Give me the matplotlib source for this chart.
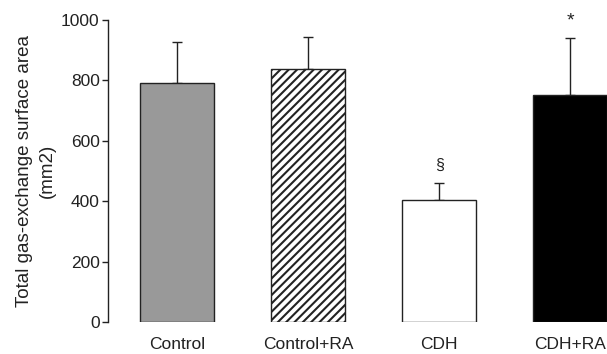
"""Total gas-exchange surface area bar chart."""

import matplotlib
matplotlib.use("Agg")
import matplotlib.pyplot as plt

groups = ["Control", "Control+RA", "CDH", "CDH+RA"]
means = [790, 837, 404, 752]
sd_up = [138, 108, 55, 187]
marks = ["", "", "§", "*"]

colors = ["#999999", "white", "white", "black"]
hatches = ["", "////", "", ""]

plt.rcParams["font.family"] = ["Liberation Sans", "DejaVu Sans"]
plt.rcParams["hatch.linewidth"] = 1.5

fig = plt.figure(figsize=(6.07, 3.54), dpi=100)
ax = fig.add_axes([108 / 607, 32 / 354, 499 / 607, 302 / 354])

x = list(range(len(groups)))
ax.bar(x, means, width=0.565, color=colors, edgecolor="#222222",
       linewidth=1.0, hatch=hatches, zorder=2)
ax.errorbar(x, means, yerr=[[0] * len(x), sd_up], fmt="none",
            ecolor="#222222", elinewidth=1.0, capsize=3.8, capthick=1.0, zorder=1)

for xi, m, e, s in zip(x, means, sd_up, marks):
    if s == "*":
        ax.text(xi, m + e + 30, s, ha="center", va="bottom", fontsize=14,
                color="#222222", clip_on=False)
    elif s:
        ax.text(xi, m + e + 35, s, ha="center", va="bottom", fontsize=11.5,
                color="#222222", clip_on=False)

ax.set_xlim(-0.527, 3.28)
ax.set_ylim(0, 1000)
ax.set_yticks([0, 200, 400, 600, 800, 1000])
ax.set_xticks(x)
ax.set_xticklabels(groups)

for side in ["top", "right", "bottom"]:
    ax.spines[side].set_visible(False)
ax.spines["left"].set_linewidth(1.0)
ax.spines["left"].set_color("#222222")

ax.tick_params(axis="y", length=4, width=1.0, pad=2, labelsize=12.5, colors="#222222")
ax.tick_params(axis="x", length=0, pad=11, labelsize=12.5, colors="#222222")

ax.set_ylabel("Total gas-exchange surface area\n(mm2)", fontsize=13.5,
              color="#222222", labelpad=4, linespacing=1.45)

fig.savefig("out.png", dpi=100)
